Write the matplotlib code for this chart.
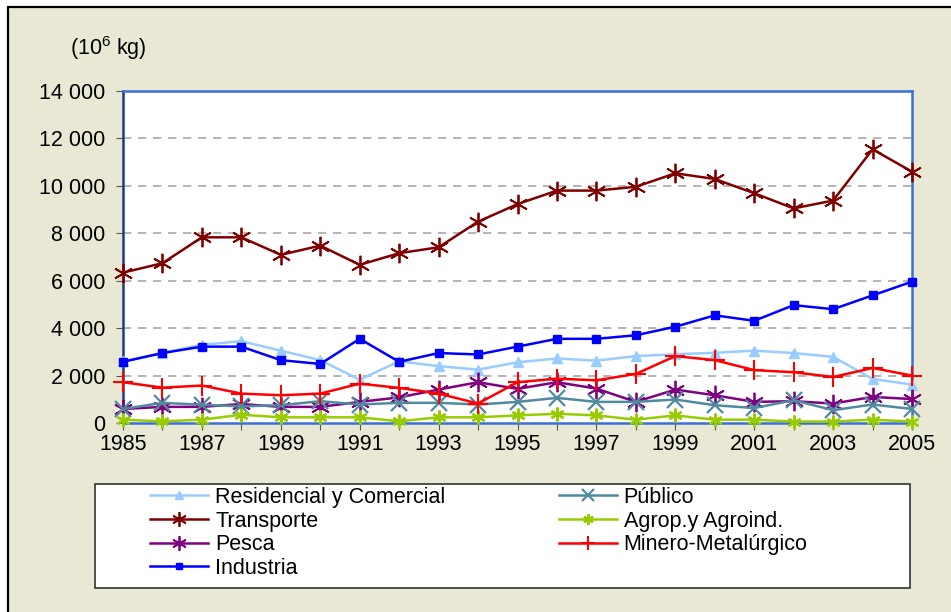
import matplotlib.pyplot as plt
from matplotlib.patches import Rectangle
import numpy as np

plt.rcParams['font.family'] = ['Liberation Sans', 'DejaVu Sans']
plt.rcParams['mathtext.fontset'] = 'custom'
plt.rcParams['mathtext.rm'] = 'Liberation Sans'

# data (10^6 kg)
years = list(range(1985, 2006))
residencial = [2600, 2950, 3300, 3450, 3050, 2650, 1830, 2600, 2400, 2250, 2560,
               2720, 2630, 2820, 2900, 2960, 3050, 2950, 2790, 1860, 1620]
transporte = [6340, 6740, 7830, 7830, 7090, 7480, 6670, 7160, 7410, 8490, 9230,
              9800, 9800, 9960, 10530, 10290, 9690, 9050, 9380, 11540, 10600]
pesca = [590, 680, 680, 800, 680, 680, 890, 1080, 1410, 1720, 1440,
         1720, 1450, 890, 1410, 1170, 890, 920, 820, 1100, 1010]
industria = [2580, 2950, 3220, 3220, 2650, 2490, 3550, 2580, 2950, 2890, 3220,
             3550, 3550, 3700, 4060, 4540, 4310, 4970, 4800, 5380, 5960]
publico = [590, 850, 770, 700, 750, 920, 780, 850, 850, 780, 890,
           1060, 890, 890, 990, 750, 630, 960, 540, 780, 590]
agrop = [140, 70, 140, 350, 240, 240, 240, 70, 240, 240, 320,
         390, 320, 140, 320, 140, 140, 60, 60, 140, 60]
minero = [1720, 1490, 1580, 1240, 1170, 1240, 1660, 1480, 1240, 820, 1720,
          1870, 1800, 2070, 2820, 2650, 2230, 2140, 1940, 2320, 2000]

yticks = [0, 2000, 4000, 6000, 8000, 10000, 12000, 14000]
ytick_labels = ['0', '2 000', '4 000', '6 000', '8 000', '10 000', '12 000', '14 000']
xtick_labels = [str(y) if (y - 1985) % 2 == 0 else '' for y in years]

bg = '#E8E8D5'
fig = plt.figure(figsize=(9.51, 6.12), dpi=100, facecolor='white')
fig.patches.append(Rectangle((8 / 951, -0.05), 1.1, 1.05 - 7 / 612, transform=fig.transFigure,
                             facecolor=bg, edgecolor='black', linewidth=1.6, zorder=-1))

ax = fig.add_axes([123 / 951, 1 - 423 / 612, 789 / 951, 332 / 612])
ax.set_facecolor('white')

ast = (6, 2, 0)
series = [
    ('Residencial y Comercial', residencial, '#99CCFF', '^', 7, 1),
    ('Transporte', transporte, '#800000', ast, 14, 1.3),
    ('Pesca', pesca, '#800080', ast, 14, 1.3),
    ('Industria', industria, '#0000FF', 's', 6, 1),
    ('Público', publico, '#4F8A9E', 'x', 11, 1.6),
    ('Agrop.y Agroind.', agrop, '#99CC00', ast, 10, 1.6),
    ('Minero-Metalúrgico', minero, '#FF0000', '+', 14, 1.5),
]
draw_order = [4, 5, 2, 6, 0, 3, 1]
handles = {}
for i in draw_order:
    name, vals, col, mk, ms, mew = series[i]
    h, = ax.plot(years, vals, color=col, lw=1.8, marker=mk, ms=ms, mew=mew,
                 mec=col, mfc=col, label=name, clip_on=False, zorder=3 + i * 0.1)
    handles[i] = h

ax.set_xlim(1985, 2005)
ax.set_ylim(0, 14000)
ax.set_xticks(years)
ax.set_xticklabels(xtick_labels, fontsize=15.5)
ax.set_yticks(yticks)
ax.set_yticklabels(ytick_labels, fontsize=15.5)
ax.tick_params(axis='x', direction='out', length=5, color='#555555', pad=3)
ax.tick_params(axis='y', direction='out', length=5, color='#555555', pad=8)

for y in yticks[1:-1]:
    ax.axhline(y, color='#A8A8A8', lw=1.2, ls=(0, (5, 4)), zorder=1)

ax.spines['left'].set_color('#1F3A8A')
ax.spines['top'].set_color('#3A6FD8')
ax.spines['right'].set_color('#3A6FD8')
ax.spines['bottom'].set_color('#3A6FD8')
for s in ax.spines.values():
    s.set_linewidth(1.8)

fig.text(108 / 951, 1 - 48 / 612, '(10$^6$ kg)', fontsize=15.5, ha='center', va='center')

# legend box
fig.patches.append(Rectangle((95 / 951, 1 - 588 / 612), 815 / 951, 104 / 612, transform=fig.transFigure,
                             facecolor='white', edgecolor='#333333', linewidth=1.2, zorder=0))
leg = fig.legend([handles[i] for i in range(7)], [s[0] for s in series], ncol=2,
                 loc='upper left', bbox_to_anchor=(150 / 951, 1 - 487 / 612),
                 frameon=False, fontsize=15.5, handlelength=2.7, handletextpad=0.33,
                 labelspacing=0.12, borderpad=0, borderaxespad=0, columnspacing=5.25,
                 markerscale=0.75)

fig.savefig('out.png', dpi=100, facecolor=fig.get_facecolor())
